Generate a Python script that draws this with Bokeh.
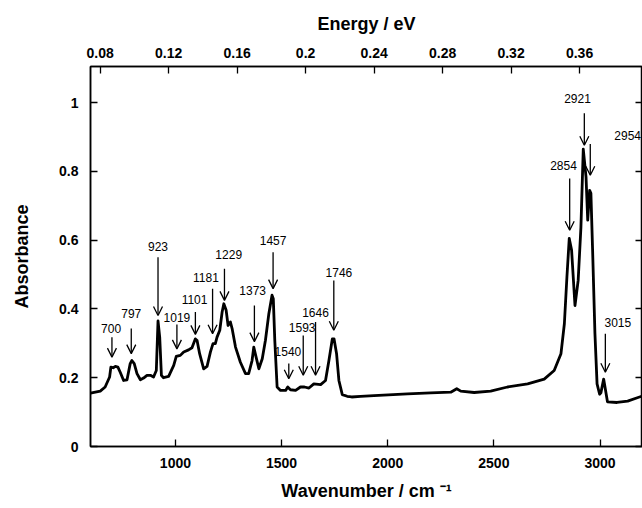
from bokeh.plotting import figure
from bokeh.models import (Range1d, LinearAxis, FixedTicker, ColumnDataSource,
                          Arrow, OpenHead, LabelSet)
from bokeh.core.properties import value
from bokeh.embed import file_html
from bokeh.resources import INLINE

# ---------------- data ----------------
wavenumber = [600, 646, 669, 690, 696, 707, 717, 729, 740, 756, 772, 787, 795, 806,
              819, 835, 850, 866, 882, 897, 910, 918, 926, 934, 944, 968, 992, 1004,
              1023, 1039, 1062, 1078, 1094, 1102, 1114, 1133, 1149, 1165, 1177, 1188,
              1196, 1209, 1220, 1228, 1239, 1248, 1259, 1267, 1283, 1306, 1330, 1345,
              1361, 1369, 1380, 1393, 1409, 1424, 1440, 1455, 1461, 1468, 1479, 1495,
              1519, 1529, 1542, 1566, 1589, 1608, 1629, 1652, 1684, 1707, 1723, 1739,
              1747, 1759, 1770, 1786, 1809, 1830, 1872, 1935, 2093, 2202, 2297, 2325,
              2344, 2407, 2485, 2564, 2659, 2737, 2784, 2816, 2832, 2844, 2855, 2866,
              2882, 2897, 2910, 2921, 2934, 2942, 2951, 2957, 2965, 2976, 2986, 2998,
              3004, 3017, 3035, 3080, 3130, 3200]
absorbance = [0.155, 0.161, 0.173, 0.202, 0.231, 0.229, 0.233, 0.231, 0.216, 0.192,
              0.194, 0.241, 0.250, 0.241, 0.212, 0.194, 0.199, 0.207, 0.207, 0.202,
              0.221, 0.365, 0.318, 0.207, 0.200, 0.204, 0.236, 0.262, 0.265, 0.275,
              0.281, 0.287, 0.313, 0.308, 0.270, 0.226, 0.233, 0.275, 0.299, 0.299,
              0.318, 0.338, 0.391, 0.415, 0.396, 0.352, 0.362, 0.343, 0.289, 0.245,
              0.212, 0.212, 0.250, 0.289, 0.260, 0.226, 0.255, 0.309, 0.386, 0.440,
              0.430, 0.309, 0.173, 0.163, 0.163, 0.173, 0.165, 0.163, 0.173, 0.173,
              0.170, 0.182, 0.180, 0.192, 0.250, 0.313, 0.313, 0.270, 0.192, 0.151,
              0.146, 0.144, 0.146, 0.148, 0.153, 0.156, 0.158, 0.168, 0.161, 0.157,
              0.161, 0.173, 0.182, 0.196, 0.221, 0.270, 0.357, 0.493, 0.605, 0.571,
              0.410, 0.483, 0.638, 0.865, 0.784, 0.658, 0.745, 0.736, 0.571, 0.328,
              0.182, 0.152, 0.156, 0.196, 0.130, 0.128, 0.132, 0.147]

peak_labels = ["700", "797", "923", "1019", "1101", "1181", "1229", "1373", "1457",
               "1540", "1593", "1646", "1746", "2854", "2921", "2954", "3015"]
arrow_x = [701, 792, 918, 1007, 1094, 1175, 1231, 1372, 1460, 1534, 1602, 1660,
           1746, 2857, 2926, 2954, 3025]
arrow_tip = [0.260, 0.270, 0.381, 0.284, 0.326, 0.328, 0.425, 0.305, 0.459, 0.197,
             0.207, 0.207, 0.338, 0.629, 0.876, 0.789, 0.216]
arrow_top = [0.318, 0.343, 0.550, 0.355, 0.391, 0.459, 0.517, 0.410, 0.565, 0.241,
             0.323, 0.362, 0.483, 0.779, 0.969, 0.880, 0.328]
label_x = [697, 792, 918, 1007, 1090, 1144, 1251, 1364, 1460, 1530, 1597, 1660,
           1770, 2828, 2894, 3130, 3084]
label_y = [0.343, 0.386, 0.582, 0.376, 0.427, 0.490, 0.559, 0.454, 0.600, 0.275,
           0.345, 0.389, 0.505, 0.818, 1.013, 0.905, 0.362]

x_ticks = [1000, 1500, 2000, 2500, 3000]
x_tick_labels = ["1000", "1500", "2000", "2500", "3000"]
y_ticks = [0, 0.2, 0.4, 0.6, 0.8, 1]
y_tick_labels = ["0", "0.2", "0.4", "0.6", "0.8", "1"]
energy_ticks = [0.08, 0.12, 0.16, 0.2, 0.24, 0.28, 0.32, 0.36]
energy_tick_labels = ["0.08", "0.12", "0.16", "0.2", "0.24", "0.28", "0.32", "0.36"]
CM_PER_EV = 8065.54
X_MIN, X_MAX = 600, 3200
Y_MIN, Y_MAX = 0, 1.105

FONT = "Liberation Sans"

p = figure(width=642, height=508, output_backend="svg", toolbar_location=None,
           x_range=Range1d(X_MIN, X_MAX), y_range=Range1d(Y_MIN, Y_MAX),
           min_border_left=90, min_border_right=0, min_border_top=66,
           min_border_bottom=62)
p.extra_x_ranges = {"energy": Range1d(X_MIN / CM_PER_EV, X_MAX / CM_PER_EV)}
p.grid.visible = False
p.outline_line_color = "black"
p.outline_line_width = 1.5
p.background_fill_color = "white"
p.border_fill_color = "white"


def style_axis(ax):
    ax.axis_line_width = 1.5
    ax.axis_line_color = "black"
    ax.major_tick_in = 7
    ax.major_tick_out = 0
    ax.major_tick_line_width = 1.3
    ax.minor_tick_line_color = None
    ax.major_label_text_font = FONT
    ax.major_label_text_font_style = "bold"
    ax.major_label_text_font_size = "14px"
    ax.major_label_text_color = "black"
    ax.axis_label_text_font = FONT
    ax.axis_label_text_font_style = "bold"
    ax.axis_label_text_font_size = "18px"
    ax.axis_label_text_color = "black"


xa = p.xaxis[0]
style_axis(xa)
xa.ticker = FixedTicker(ticks=x_ticks)
xa.major_label_overrides = dict(zip(x_ticks, x_tick_labels))
xa.major_label_standoff = 11
xa.axis_label = "Wavenumber / cm \u207b\u00b9"
xa.axis_label_standoff = 10

ya = p.yaxis[0]
style_axis(ya)
ya.ticker = FixedTicker(ticks=y_ticks)
ya.major_label_overrides = dict(zip(y_ticks, y_tick_labels))
ya.major_label_standoff = 12
ya.axis_label = "Absorbance"
ya.axis_label_standoff = 24

top = LinearAxis(x_range_name="energy", ticker=FixedTicker(ticks=energy_ticks),
                 axis_label="Energy / eV")
style_axis(top)
top.major_label_overrides = dict(zip(energy_ticks, energy_tick_labels))
top.major_label_standoff = 9
top.axis_label_standoff = 11
p.add_layout(top, "above")

# right frame side: inward ticks only, no labels
right = LinearAxis(ticker=FixedTicker(ticks=y_ticks))
style_axis(right)
right.major_label_overrides = {t: "" for t in y_ticks}
right.major_label_text_color = None
right.major_label_standoff = 0
p.add_layout(right, "right")

p.line(wavenumber, absorbance, line_color="black", line_width=2.8,
       line_join="round")

asrc = ColumnDataSource(dict(x=arrow_x, y0=arrow_top, y1=arrow_tip))
p.add_layout(Arrow(end=OpenHead(size=9, line_width=1.3, line_color="black"),
                   x_start="x", y_start="y0", x_end="x", y_end="y1",
                   line_width=1.3, line_color="black", source=asrc))

lsrc = ColumnDataSource(dict(x=label_x, y=label_y, t=peak_labels))
p.add_layout(LabelSet(x="x", y="y", text="t", source=lsrc, text_align="center",
                      text_baseline="middle", text_font=value(FONT),
                      text_font_size=value("12px"), text_color=value("black")))

open("out.html", "w").write(file_html(p, INLINE))
